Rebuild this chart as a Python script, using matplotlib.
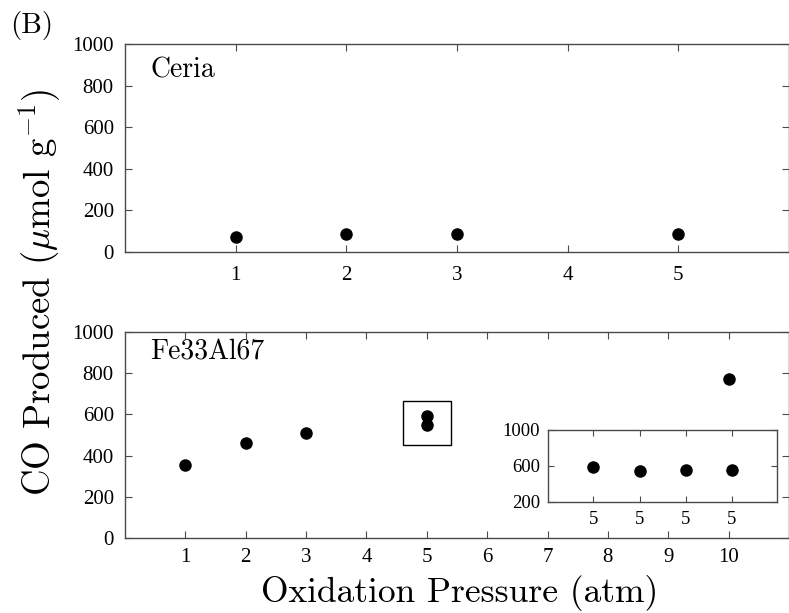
import matplotlib
matplotlib.use("Agg")
import matplotlib.pyplot as plt
from matplotlib.patches import Rectangle

plt.rcParams["mathtext.fontset"] = "cm"
plt.rcParams["axes.unicode_minus"] = False

# --- data ---
ceria_pressure = [1, 2, 3, 5]
ceria_co = [70, 85, 85, 85]

fe_pressure = [1, 2, 3, 5, 5, 10]
fe_co = [355, 460, 510, 590, 548, 770]

inset_runs = [1, 2, 3, 4]
inset_labels = ["5", "5", "5", "5"]
inset_co = [590, 545, 550, 555]

top_xticks = [1, 2, 3, 4, 5]
bottom_xticks = [1, 2, 3, 4, 5, 6, 7, 8, 9, 10]
yticks = [0, 200, 400, 600, 800, 1000]
inset_yticks = [200, 600, 1000]

TICK_FONT = "Liberation Serif"
CM_FONT = "cmr10"
SPINE = "#4a4a4a"


def style_axes(ax, xt, xl, yt, size, length=5, xpad=6, ypad=8):
    ax.set_xticks(xt, xl, fontsize=size, fontfamily=TICK_FONT)
    ax.set_yticks(yt, [str(v) for v in yt], fontsize=size,
                  fontfamily=TICK_FONT)
    ax.tick_params(direction="in", top=True, right=True, length=length,
                   width=0.8, color=SPINE)
    ax.tick_params(axis="x", pad=xpad)
    ax.tick_params(axis="y", pad=ypad)
    for s in ax.spines.values():
        s.set_color(SPINE)
        s.set_linewidth(1.0)


fig = plt.figure(figsize=(7.89, 6.13), dpi=100)

# top panel: ceria
ax1 = fig.add_axes([0.1584, 0.5889, 0.8416, 0.3393])
ax1.plot(ceria_pressure, ceria_co, "o", color="black", ms=8, clip_on=False)
ax1.set_xlim(0, 6)
ax1.set_ylim(0, 1000)
style_axes(ax1, top_xticks, [str(v) for v in top_xticks], yticks, 15,
           xpad=10)
ax1.text(0.038, 0.875, "Ceria", transform=ax1.transAxes, fontsize=20,
         family=CM_FONT, va="center")

# bottom panel: Fe33Al67
ax2 = fig.add_axes([0.1584, 0.1223, 0.8416, 0.3361])
ax2.plot(fe_pressure, fe_co, "o", color="black", ms=8)
ax2.set_xlim(0, 11)
ax2.set_ylim(0, 1000)
style_axes(ax2, bottom_xticks, [str(v) for v in bottom_xticks], yticks, 15,
           xpad=7)
ax2.text(0.038, 0.90, "Fe33Al67", transform=ax2.transAxes, fontsize=20,
         family=CM_FONT, va="center")
ax2.add_patch(Rectangle((4.6, 450), 0.8, 215, fill=False,
                        edgecolor="black", lw=1.0))

# inset with the repeated 5 atm runs
ax3 = fig.add_axes([0.695, 0.1816, 0.2895, 0.117])
ax3.plot(inset_runs, inset_co, "o", color="black", ms=8)
ax3.set_xlim(0.02, 4.98)
ax3.set_ylim(200, 1000)
style_axes(ax3, inset_runs, inset_labels, inset_yticks, 13.5, length=4,
           xpad=7, ypad=6)

fig.text(0.013, 0.958, "(B)", fontsize=21, family=CM_FONT, va="center")
fig.text(0.05, 0.523, r"CO Produced ($\mu$mol g$^{-1}$)", rotation=90,
         fontsize=26.5, family=CM_FONT, ha="center", va="center")
fig.text(0.583, 0.033, "Oxidation Pressure (atm)", fontsize=25.5,
         family=CM_FONT, ha="center", va="center")

plt.savefig("out.png", dpi=100)
